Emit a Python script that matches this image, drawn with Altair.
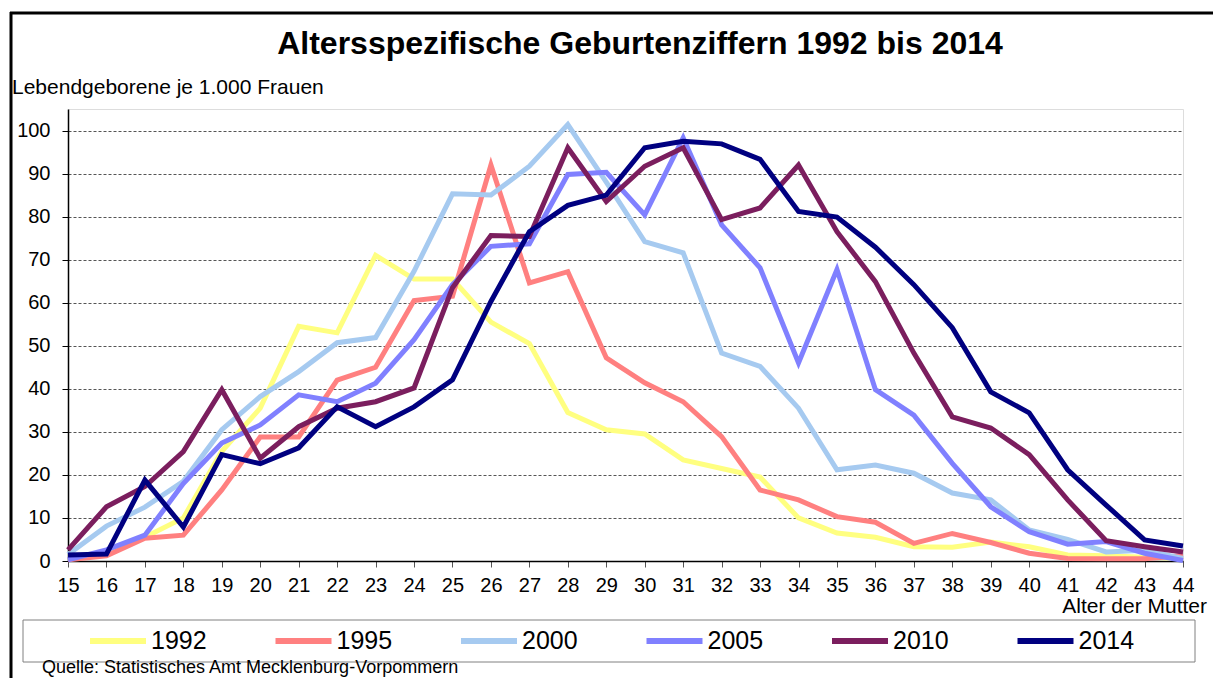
import altair as alt
import pandas as pd

ages = list(range(15, 45))
years = ["1992", "1995", "2000", "2005", "2010", "2014"]
colors = ["#FFFF80", "#FF8080", "#A6CAF0", "#8080FF", "#7B1E5E", "#000080"]

v1992 = [1, 2, 5.5, 10, 25.5, 35.5, 54.5, 53, 71, 65.5, 65.5, 55.5, 50.5, 34.5, 30.5, 29.5,
         23.5, 21.5, 19.5, 10, 6.5, 5.5, 3.3, 3.2, 4.4, 3.3, 1.4, 1.2, 0.9, 0.5]
v1995 = [0.3, 1.2, 5.3, 6, 16.5, 28.8, 28.8, 42, 45, 60.5, 61.5, 92, 64.6, 67.2, 47.2, 41.4,
         37, 28.9, 16.5, 14.2, 10.3, 9, 4.1, 6.4, 4.3, 1.8, 0.6, 0.5, 0.5, 1.2]
v2000 = [1.5, 8.1, 12.5, 18.5, 30.5, 38.2, 44, 50.7, 51.9, 67.3, 85.3, 85, 91.7, 101.4, 88, 74.2,
         71.6, 48.3, 45.2, 35.5, 21.2, 22.3, 20.4, 15.8, 14.2, 7.2, 5, 2.1, 2.5, 0.6]
v2005 = [0.3, 2.6, 6, 18, 27.4, 31.6, 38.6, 37, 41.3, 51.4, 64.2, 73.1, 73.7, 89.8, 90.3, 80.4,
         98.3, 78.1, 68.1, 46, 67.7, 39.8, 33.9, 22.7, 12.6, 6.8, 3.9, 4.5, 1.8, 0.1]
v2010 = [2.6, 12.6, 17.3, 25.4, 39.8, 23.9, 31.2, 35.5, 37, 40.2, 63.5, 75.6, 75.4, 96, 83.5, 91.7,
         96, 79.3, 82, 92, 76.5, 64.9, 48.3, 33.5, 30.9, 24.7, 14.2, 4.7, 3.3, 2.1]
v2014 = [1.4, 1.6, 18.8, 7.9, 24.7, 22.6, 26.3, 35.8, 31.2, 35.8, 42.1, 60.3, 76.5, 82.6, 85, 96,
         97.5, 96.9, 93.3, 81.2, 79.9, 72.9, 64.2, 54.2, 39.3, 34.4, 21.2, 13, 4.9, 3.5]

title_text = "Altersspezifische Geburtenziffern 1992 bis 2014"
ylabel_text = "Lebendgeborene je 1.000 Frauen"
xlabel_text = "Alter der Mutter"
source_text = "Quelle: Statistisches Amt Mecklenburg-Vorpommern"

rows = []
for yr, vals in zip(years, [v1992, v1995, v2000, v2005, v2010, v2014]):
    for a, v in zip(ages, vals):
        rows.append({"Alter": a, "Wert": v, "Jahr": yr})
df = pd.DataFrame(rows)

FONT = "Liberation Sans"

lines = alt.Chart(df).mark_line(strokeWidth=5, strokeJoin="miter", strokeCap="butt").encode(
    x=alt.X("Alter:Q",
            scale=alt.Scale(domain=[15, 44], nice=False, zero=False),
            axis=alt.Axis(values=ages, format="d", title=None, grid=False, tickSize=6,
                          labelPadding=8, domainColor="black", domainWidth=1.5,
                          tickColor="#555", labelFontSize=20, labelColor="black",
                          labelFont=FONT, labelFlush=False)),
    y=alt.Y("Wert:Q",
            scale=alt.Scale(domain=[0, 105], nice=False),
            axis=alt.Axis(values=list(range(0, 101, 10)), title=None, grid=True,
                          gridDash=[3, 2], gridColor="#555", gridWidth=1, tickSize=6,
                          labelPadding=12, domainColor="black", domainWidth=1.5,
                          tickColor="black", labelFontSize=20, labelFont=FONT,
                          labelColor="black")),
    color=alt.Color("Jahr:N", scale=alt.Scale(domain=years, range=colors),
                    legend=alt.Legend(orient="none", legendX=19, legendY=501,
                                      direction="horizontal", columns=6, title=None,
                                      symbolType="stroke", symbolSize=3136,
                                      symbolStrokeWidth=6, labelFontSize=25,
                                      labelFont=FONT, labelColor="black", labelOffset=2,
                                      columnPadding=56.5, symbolOpacity=1)),
)


def txt(s, x, y, size, align="left", weight="normal"):
    return alt.Chart(pd.DataFrame({"t": [s]})).mark_text(
        align=align, baseline="alphabetic", font=FONT, fontSize=size,
        fontWeight=weight, color="black"
    ).encode(text="t:N", x=alt.value(x), y=alt.value(y))


one = pd.DataFrame({"k": [0]})
legend_box = alt.Chart(one).mark_rect(fill="white", stroke="#808080", strokeWidth=1).encode(
    x=alt.value(-45), x2=alt.value(1127), y=alt.value(511), y2=alt.value(553))
border_v = alt.Chart(one).mark_rule(color="black", strokeWidth=3).encode(
    x=alt.value(-57), y=alt.value(-97), y2=alt.value(600))
border_h = alt.Chart(one).mark_rule(color="black", strokeWidth=3).encode(
    x=alt.value(-58), x2=alt.value(1200), y=alt.value(-96))

chart = alt.layer(
    legend_box,
    lines,
    txt(title_text, 572, -55, 32, align="center", weight="bold"),
    txt(ylabel_text, -56, -15, 21),
    txt(xlabel_text, 1139, 504, 21, align="right"),
    txt(source_text, -26, 564, 18),
    border_v,
    border_h,
).properties(
    width=1115, height=452,
    padding={"left": 60, "top": 101, "right": 30, "bottom": 117},
    autosize=alt.AutoSizeParams(type="none"),
).configure_view(stroke="#808080", strokeWidth=1).configure(background="white")

chart.save("out.html", embed_options={"renderer": "svg", "actions": False})
